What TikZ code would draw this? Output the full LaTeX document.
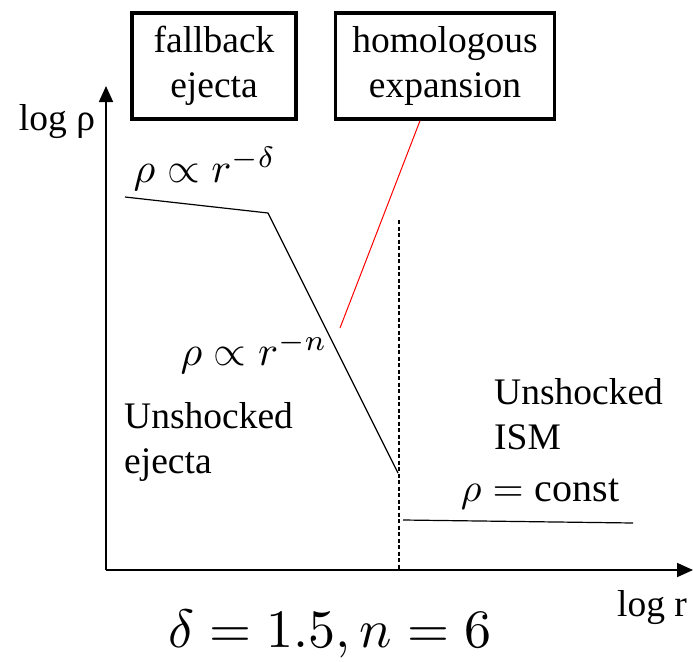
\documentclass[tikz,border=0pt]{standalone}
\usepackage{graphicx}
\usepackage{fontspec}
\setmainfont{Liberation Serif}
\usetikzlibrary{arrows.meta}
\newcommand{\scaledmath}[2]{\scalebox{#1}{\fontsize{10}{12}\selectfont$#2$}}
\begin{document}
\begin{tikzpicture}[x=1pt,y=-1pt,
  txt/.style={font=\fontsize{37.5}{45}\selectfont, inner sep=0pt},
  mth/.style={inner sep=0pt},
  labbox/.style={draw, line width=3.5pt, align=center, minimum height=106pt, inner sep=0pt, font=\fontsize{37.5}{45}\selectfont},
  axis/.style={line width=1.8pt, -{Triangle[width=14pt,length=16pt]}},
  prof/.style={line width=1.2pt},
]
\useasboundingbox (0,0) rectangle (693,661);
% axes
\coordinate (O) at (106,570);
\coordinate (Ytip) at (106,86);
\coordinate (Xtip) at (693,570);
\draw[axis] (O) -- (Ytip);
\draw[axis] (O) -- (Xtip);
\node[txt] (ylab) at (57,122) {log ρ};
\node[txt] (xlab) at (652,608) {log r};
% boxes
\node[labbox, minimum width=164pt] (fb) at (214,66) {fallback\\ejecta};
\node[labbox, minimum width=219pt] (hom) at (445,66) {homologous\\expansion};
% profile
\coordinate (p1) at (125,197);
\coordinate (p2) at (268,213);
\coordinate (p3) at (398,473);
\draw[prof] (p1) -- (p2) -- (p3);
\coordinate (d1) at (399,220);
\coordinate (d2) at (399,570);
\draw[line width=1.1pt, dash pattern=on 4pt off 2.5pt] (d1) -- (d2);
\coordinate (i1) at (403,520);
\coordinate (i2) at (633,523);
\draw[prof] (i1) -- (i2);
% red line
\coordinate (r2) at (340,328);
\draw[red, line width=1pt] (hom.south) ++(-25,0) coordinate (r1) -- (r2);
% labels
\node[mth] (ld) at (205,169) {\scaledmath{4.2}{\rho \propto r^{-\delta}}};
\node[mth] (ln) at (254,353) {\scaledmath{4.2}{\rho \propto r^{-n}}};
\node[txt, anchor=west, align=left] (ue) at (124,442) {Unshocked\\ejecta};
\node[txt, anchor=west, align=left] (ui) at (494,414) {Unshocked\\ISM};
\node[mth] (lc) at (540,494) {\scaledmath{4.0}{\rho = \mathrm{const}}};
\node[mth] (par) at (330,634) {\scaledmath{5.4}{\delta = 1.5, n = 6}};
\end{tikzpicture}
\end{document}
